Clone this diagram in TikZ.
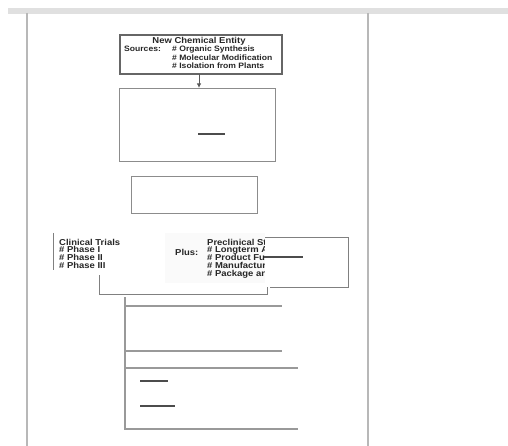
\documentclass[tikz,border=0pt]{standalone}
\usepackage{fontspec}
\setmainfont[FakeStretch=1.1]{Liberation Sans}
\usetikzlibrary{arrows.meta}
\begin{document}
\begin{tikzpicture}[x=1pt,y=-1pt,
  txt/.style={anchor=base west, inner sep=0pt, font=\bfseries\fontsize{7.8}{8}\selectfont, text=black!85},
  txtL/.style={txt, font=\bfseries\fontsize{8.6}{8}\selectfont},
  pageline/.style={draw=black!28, line width=1.4pt},
  boxA/.style={draw=black!60, line width=1.1pt},
  boxB/.style={draw=black!45, line width=0.9pt},
  rule/.style={draw=black!40, line width=1.2pt},
  darkbar/.style={draw=black!70, line width=1.6pt},
  conn/.style={draw=black!50, line width=0.9pt}]
\useasboundingbox (0,0) rectangle (508,446);
% page frame
\fill[black!12] (8,8) rectangle (508,14);
\draw[pageline] (27,13) -- (27,446);
\draw[pageline] (368,13) -- (368,446);
% box 1
\node[boxA, minimum width=162pt, minimum height=39pt, inner sep=0pt] (nce) at (201,54.5) {};
\node[txtL, anchor=base] (t0) at (199,44) {New Chemical Entity};
\node[txt] (t1) at (124,52) {Sources:};
\node[txt] (t2) at (172,52) {\# Organic Synthesis};
\node[txt] (t3) at (172,60.5) {\# Molecular Modification};
\node[txt] (t4) at (172,69) {\# Isolation from Plants};
% box 2
\node[boxB, minimum width=156pt, minimum height=73pt, inner sep=0pt] (b2) at (197,124.5) {};
\coordinate (a0) at (199,74.5); \coordinate (a1) at (199,88);
\draw[-{Latex[length=4.5pt,width=4.5pt]}, draw=black!65, line width=0.9pt] (a0) -- (a1);
\coordinate (d1a) at (198,134); \coordinate (d1b) at (225,134);
\draw[darkbar] (d1a) -- (d1b);
% box 3
\node[boxB, minimum width=126pt, minimum height=37pt, inner sep=0pt] (b3) at (194,194.5) {};
% clinical trials
\fill[black!2] (165,233) rectangle (265,283);
\draw[conn] (53,233) -- (53,270);
\node[txtL] (c0) at (59,245) {Clinical Trials};
\node[txtL] (c1) at (59,252.5) {\# Phase I};
\node[txtL] (c2) at (59,260) {\# Phase II};
\node[txtL] (c3) at (59,268) {\# Phase III};
% preclinical
\node[txtL] (p0) at (175,255) {Plus:};
\begin{scope}
\clip (150,230) rectangle (264,290);
\node[txtL] (q0) at (207,245) {Preclinical Studies};
\node[txtL] (q1) at (207,252.5) {\# Longterm Animal};
\node[txtL] (q2) at (207,260.5) {\# Product Function};
\node[txtL] (q3) at (207,268.5) {\# Manufacturing};
\node[txtL] (q4) at (207,276.5) {\# Package and};
\end{scope}
\coordinate (r1) at (265,237); \coordinate (r2) at (348,237);
\coordinate (r3) at (348,287); \coordinate (r4) at (270,287);
\draw[conn] (r1) -- (r2) -- (r3) -- (r4);
\coordinate (d2a) at (264,257); \coordinate (d2b) at (303,257);
\draw[darkbar] (d2a) -- (d2b);
% bracket
\coordinate (k1) at (99,275); \coordinate (k2) at (99,294);
\coordinate (k3) at (267,294); \coordinate (k4) at (267,287);
\draw[conn] (k1) -- (k2) -- (k3) -- (k4);
% lower frame
\coordinate (L0) at (125,297); \coordinate (L1) at (125,429);
\draw[rule] (L0) -- (L1) -- (298,429);
\draw[rule] (125,306) -- (282,306);
\draw[rule] (125,351) -- (282,351);
\draw[rule] (125,368) -- (298,368);
\draw[darkbar] (140,381) -- (168,381);
\draw[darkbar] (140,406) -- (175,406);
\end{tikzpicture}
\end{document}
